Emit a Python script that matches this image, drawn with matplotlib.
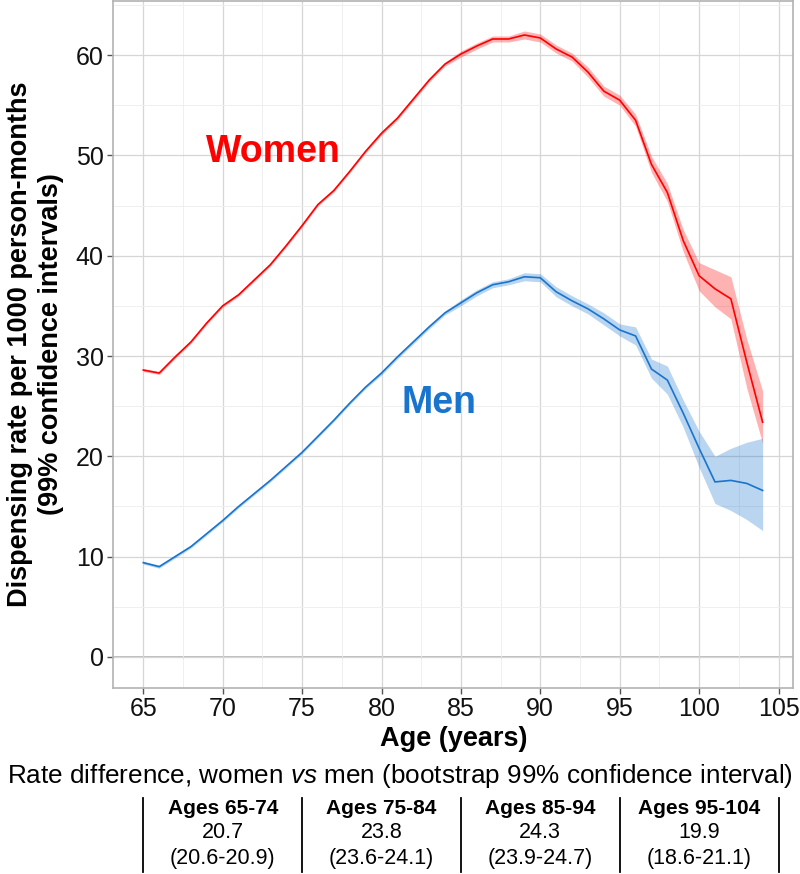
import matplotlib
matplotlib.use("Agg")
import matplotlib.pyplot as plt
import matplotlib.transforms as mtransforms

plt.rcParams['font.family'] = ['Liberation Sans', 'DejaVu Sans']
plt.rcParams['mathtext.fontset'] = 'custom'
plt.rcParams['mathtext.rm'] = 'Liberation Sans'
plt.rcParams['mathtext.it'] = 'Liberation Sans:italic'

# data
ages = list(range(65, 105))

women = [28.6, 28.3, 29.9, 31.4, 33.3, 35.0, 36.1, 37.6, 39.1, 41.0,
         43.0, 45.1, 46.5, 48.4, 50.4, 52.2, 53.7, 55.6, 57.5, 59.1,
         60.1, 60.9, 61.6, 61.6, 62.0, 61.7, 60.6, 59.8, 58.3, 56.4,
         55.5, 53.5, 49.1, 46.3, 41.5, 38.0, 36.7, 35.7, 29.4, 23.4]
women_lo = [28.45, 28.15, 29.75, 31.25, 33.15, 34.85, 35.95, 37.45, 38.95, 40.85,
            42.85, 44.95, 46.35, 48.25, 50.25, 52.0, 53.5, 55.4, 57.3, 58.9,
            59.8, 60.6, 61.3, 61.3, 61.6, 61.3, 60.2, 59.4, 57.8, 55.9,
            55.0, 52.9, 48.3, 45.4, 40.4, 36.5, 34.9, 33.7, 26.8, 21.3]
women_hi = [28.75, 28.45, 30.05, 31.55, 33.45, 35.15, 36.25, 37.75, 39.25, 41.15,
            43.15, 45.25, 46.65, 48.55, 50.55, 52.4, 53.9, 55.8, 57.7, 59.3,
            60.4, 61.2, 61.9, 61.9, 62.4, 62.1, 61.0, 60.2, 58.8, 56.9,
            56.0, 54.1, 49.9, 47.2, 42.6, 39.3, 38.6, 37.9, 31.7, 26.5]

men = [9.4, 9.0, 10.0, 11.0, 12.3, 13.6, 15.0, 16.3, 17.6, 19.0,
       20.4, 22.0, 23.6, 25.3, 26.9, 28.3, 29.9, 31.4, 32.9, 34.3,
       35.3, 36.3, 37.1, 37.4, 37.9, 37.8, 36.4, 35.5, 34.7, 33.7,
       32.6, 32.0, 28.7, 27.6, 24.3, 20.8, 17.45, 17.6, 17.3, 16.6]
men_lo = [9.25, 8.85, 9.85, 10.85, 12.15, 13.45, 14.85, 16.15, 17.45, 18.85,
          20.25, 21.85, 23.45, 25.15, 26.75, 28.1, 29.7, 31.2, 32.7, 34.1,
          35.0, 36.0, 36.8, 37.1, 37.5, 37.4, 35.9, 35.0, 34.2, 33.1,
          32.0, 31.1, 27.8, 26.2, 22.9, 18.9, 15.3, 14.6, 13.7, 12.6]
men_hi = [9.55, 9.15, 10.15, 11.15, 12.45, 13.75, 15.15, 16.45, 17.75, 19.15,
          20.55, 22.15, 23.75, 25.45, 27.05, 28.5, 30.1, 31.6, 33.1, 34.5,
          35.6, 36.6, 37.4, 37.7, 38.3, 38.2, 36.9, 36.0, 35.2, 34.3,
          33.2, 32.9, 29.7, 29.0, 25.6, 22.5, 20.0, 20.8, 21.4, 21.8]

# table under the chart
group_labels = ['Ages 65-74', 'Ages 75-84', 'Ages 85-94', 'Ages 95-104']
group_centres = [70, 80, 90, 100]
group_edges = [65, 75, 85, 95, 105]
diff_values = ['20.7', '23.8', '24.3', '19.9']
diff_ci = ['(20.6-20.9)', '(23.6-24.1)', '(23.9-24.7)', '(18.6-21.1)']

red = '#ff0000'
blue = '#1874cd'

fig = plt.figure(figsize=(8, 8.74), dpi=100)
ax = fig.add_axes([0.1416, 0.2132, 0.85, 0.7858])

ax.fill_between(ages, women_lo, women_hi, color=red, alpha=0.3, lw=0)
ax.fill_between(ages, men_lo, men_hi, color=blue, alpha=0.3, lw=0)
ax.plot(ages, women, color=red, lw=1.2)
ax.plot(ages, men, color=blue, lw=1.2)
ax.axhline(0, color='#b0b0b0', lw=1.2, zorder=0)

ax.text(68.95, 50.3, 'Women', color=red, fontsize=27, fontweight='bold', va='center')
ax.text(81.28, 25.3, 'Men', color=blue, fontsize=27, fontweight='bold', va='center')

ax.set_xlim(63.11, 105.93)
ax.set_ylim(-3.06, 65.4)
ax.set_xticks(range(65, 106, 5))
ax.set_xticks([67.5 + 5 * i for i in range(8)], minor=True)
ax.set_yticks(range(0, 61, 10))
ax.set_yticks(range(5, 66, 10), minor=True)
ax.grid(which='major', color='#d6d6d6', lw=0.9)
ax.grid(which='minor', color='#efefef', lw=0.7)
ax.set_axisbelow(True)
for s in ax.spines.values():
    s.set_color('#b3b3b3')
    s.set_linewidth(1.2)
ax.tick_params(which='major', labelsize=18, length=4, width=1, color='#555555',
               labelcolor='#111111', pad=3)
ax.tick_params(which='minor', length=0)

ax.set_xlabel('Age (years)', fontsize=19.5, fontweight='bold', labelpad=3)
ax.set_ylabel('Dispensing rate per 1000 person-months\n(99% confidence intervals)',
              fontsize=19.5, fontweight='bold', labelpad=8, linespacing=1.25)

fig.text(0.5, 0.112, 'Rate difference, women $\\it{vs}$ men (bootstrap 99% confidence interval)',
         fontsize=18.8, ha='center', va='center')

trans = mtransforms.blended_transform_factory(ax.transData, fig.transFigure)
for x in group_edges:
    ax.plot([x, x], [0.0023, 0.087], color='black', lw=1.3, transform=trans, clip_on=False)
for x, lab, v, ci in zip(group_centres, group_labels, diff_values, diff_ci):
    ax.text(x, 0.0755, lab, transform=trans, fontsize=15, fontweight='bold', ha='center', va='center')
    ax.text(x, 0.047, v, transform=trans, fontsize=15.5, ha='center', va='center')
    ax.text(x, 0.0183, ci, transform=trans, fontsize=15.5, ha='center', va='center')

fig.savefig('out.png', dpi=100)
